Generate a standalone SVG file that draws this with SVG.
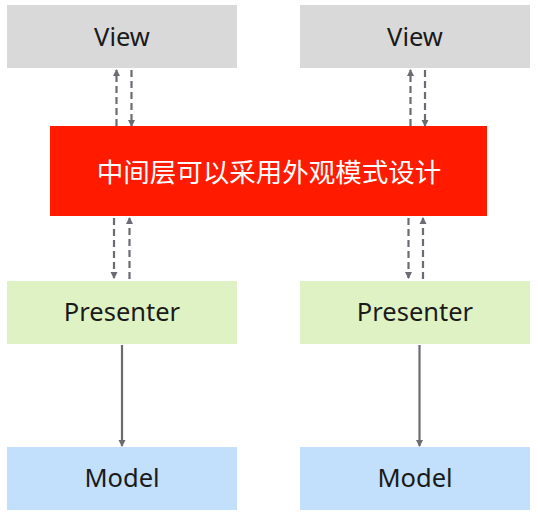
<svg xmlns="http://www.w3.org/2000/svg" width="538" height="516" viewBox="0 0 538 516">
<style>
.view{fill:#d9d9d9}
.pres{fill:#dff2c4}
.model{fill:#c2e0fb}
.mid{fill:#ff1a00}
.t{font-family:"Noto Sans","Open Sans",sans-serif;font-size:25.5px;fill:#1a1a1a;text-anchor:middle;dominant-baseline:central}
.tw{font-family:"Noto Sans CJK SC","Noto Sans",sans-serif;font-size:26.5px;fill:#ffffff;text-anchor:middle;dominant-baseline:central}
.dash{stroke:#6b6b73;stroke-width:2.2;stroke-dasharray:7,4;fill:none}
.solid{stroke:#6b6b73;stroke-width:2.2;fill:none}
</style>
<defs>
<marker id="ah" markerWidth="8" markerHeight="8" refX="6" refY="4" orient="auto" markerUnits="userSpaceOnUse">
<path d="M0,0.5 L7,4 L0,7.5 Z" fill="#6b6b73"/>
</marker>
</defs>
<rect width="538" height="516" fill="#ffffff"/>
<g id="view1"><rect class="view" x="7" y="5" width="230" height="63"/><text class="t" x="122" y="36">View</text></g>
<g id="view2"><rect class="view" x="300" y="5" width="230" height="63"/><text class="t" x="415" y="36">View</text></g>
<g id="middle"><rect class="mid" x="50" y="126" width="437" height="90"/><text class="tw" x="269" y="170">中间层可以采用外观模式设计</text></g>
<g id="presenter1"><rect class="pres" x="7" y="281" width="230" height="63"/><text class="t" x="122" y="311">Presenter</text></g>
<g id="presenter2"><rect class="pres" x="300" y="281" width="230" height="63"/><text class="t" x="415" y="311">Presenter</text></g>
<g id="model1"><rect class="model" x="7" y="447" width="230" height="63"/><text class="t" x="122" y="477">Model</text></g>
<g id="model2"><rect class="model" x="300" y="447" width="230" height="63"/><text class="t" x="415" y="477">Model</text></g>
<g id="connectors">
<line class="dash" x1="116.5" y1="126" x2="116.5" y2="70" marker-end="url(#ah)"/>
<line class="dash" x1="131.5" y1="70" x2="131.5" y2="126" marker-end="url(#ah)"/>
<line class="dash" x1="410.5" y1="126" x2="410.5" y2="70" marker-end="url(#ah)"/>
<line class="dash" x1="425" y1="70" x2="425" y2="126" marker-end="url(#ah)"/>
<line class="dash" x1="114" y1="218" x2="114" y2="278" marker-end="url(#ah)"/>
<line class="dash" x1="129.5" y1="279" x2="129.5" y2="218" marker-end="url(#ah)"/>
<line class="dash" x1="408.5" y1="218" x2="408.5" y2="278" marker-end="url(#ah)"/>
<line class="dash" x1="423" y1="279" x2="423" y2="218" marker-end="url(#ah)"/>
<line class="solid" x1="122" y1="345" x2="122" y2="446" marker-end="url(#ah)"/>
<line class="solid" x1="419.5" y1="345" x2="419.5" y2="446" marker-end="url(#ah)"/>
</g>
</svg>
